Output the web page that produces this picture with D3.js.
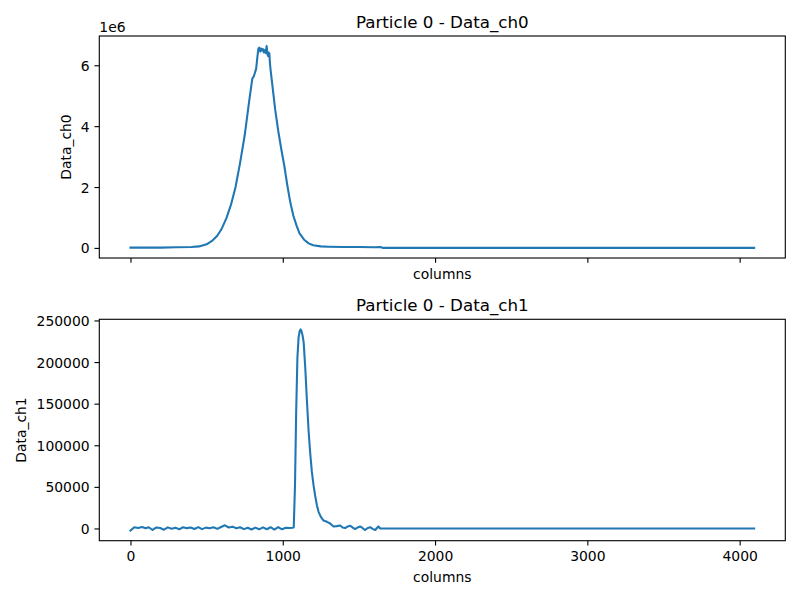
<!DOCTYPE html>
<html>
<head>
<meta charset="utf-8">
<script src="https://cdn.jsdelivr.net/npm/d3@7"></script>
<style>
  body { margin: 0; background: #fff; }
  text { font-family: "DejaVu Sans", sans-serif; fill: #000; }
</style>
</head>
<body>
<div id="wrapper"></div>
<script>
const ch0Columns = [0, 100, 200, 300, 400, 450, 500, 540, 570, 600, 630, 660, 690, 720, 750, 780,
  800, 810, 825, 835, 840, 846, 852, 858, 864, 870, 876, 883, 888, 894, 900, 904, 908, 912, 916,
  920, 935, 950, 970, 990, 1010, 1030, 1050, 1070, 1090, 1110, 1140, 1170, 1200, 1250, 1300,
  1400, 1500, 1600, 1640, 1660, 2500, 3500, 4095]
const ch0Values = [0.01, 0.01, 0.01, 0.02, 0.03, 0.05, 0.12, 0.25, 0.40, 0.64, 0.98, 1.42, 2.0, 2.8, 3.7, 4.85,
  5.56, 5.64, 5.88, 6.35, 6.55, 6.58, 6.45, 6.55, 6.48, 6.53, 6.42, 6.50, 6.40, 6.63, 6.35, 6.30, 6.42, 6.38, 6.05,
  5.85, 5.20, 4.55, 3.85, 3.25, 2.70, 2.05, 1.48, 1.05, 0.74, 0.48, 0.27, 0.15, 0.09, 0.05, 0.04,
  0.03, 0.03, 0.02, 0.03, 0.0, 0.0, 0.0, 0.0].map(v => v * 1e6)

const ch1Columns = [0, 25, 50, 75, 100, 120, 145, 170, 195, 220, 245, 270, 295, 320, 345, 370, 395,
  420, 445, 470, 495, 520, 545, 570, 595, 620, 645, 670, 695, 720, 745, 770, 795, 820, 845, 870,
  895, 920, 945, 970, 995, 1020, 1045, 1065, 1072, 1080, 1088, 1096, 1104, 1111, 1117, 1123, 1130,
  1137, 1148, 1159, 1170, 1180, 1191, 1202, 1213, 1224, 1235, 1250, 1268, 1290, 1311, 1333, 1355,
  1377, 1393, 1410, 1427, 1443, 1460, 1475, 1492, 1508, 1525, 1541, 1558, 1574, 1590, 1607, 1620,
  1628, 1640, 2500, 3500, 4095]
const ch1Values = [-2600, 1500, 500, 1800, 200, 1500, -1800, 1200, 600, -1500, 1300, -300, 1000, -1000, 1500, 400, 1200,
  -600, 1600, -800, 1000, 200, 1400, -500, 1800, 3800, 1200, 2200, 300, 1500, -800, 800, -1200, 1000, -1000, 1300,
  -900, 1500, -1300, 1600, -1000, 800, 500, 900, 1500, 50000, 140000, 205000, 230000, 237000, 239300, 237000, 232000,
  224000, 192000, 152000, 116000, 91000, 68000, 52000, 39000, 28000, 20000, 14000, 9500, 8000, 6000, 2400, 2800,
  3600, 1200, 500, 2500, 3300, 1000, -700, 1200, 2400, 300, -1900, 600, 1500, -500, -1900, 800,
  2400, 0, 0, 0, 0]

const xTicks = [0, 1000, 2000, 3000, 4000]
const ch0Ticks = [0, 2e6, 4e6, 6e6]
const ch1Ticks = [0, 50000, 100000, 150000, 200000, 250000]

const panels = [
  { title: "Particle 0 - Data_ch0", ylabel: "Data_ch0", cols: ch0Columns, vals: ch0Values,
    yTicks: ch0Ticks, yFormat: d => d / 1e6, top: 36, bottom: 258, showX: false, ylabelX: 71, offset: "1e6" },
  { title: "Particle 0 - Data_ch1", ylabel: "Data_ch1", cols: ch1Columns, vals: ch1Values,
    yTicks: ch1Ticks, yFormat: d => d, top: 319.3, bottom: 540.7, showX: true, ylabelX: 25.5, offset: null }
]

const width = 800
const height = 600
const left = 99.3
const right = 785.3
const fontSize = 13.9
const tickLen = 4.86

const svg = d3.select("#wrapper").append("svg")
  .attr("width", width)
  .attr("height", height)

// matplotlib style 5% margins
const pad = ([a, b]) => [a - 0.05 * (b - a), b + 0.05 * (b - a)]

const xScale = d3.scaleLinear()
  .domain(pad(d3.extent(ch0Columns)))
  .range([left, right])

panels.forEach(p => {
  const data = p.cols.map((c, i) => ({ x: c, y: p.vals[i] }))
  const yScale = d3.scaleLinear()
    .domain(pad(d3.extent(p.vals)))
    .range([p.bottom, p.top])

  const g = svg.append("g")

  const line = d3.line()
    .x(d => xScale(d.x))
    .y(d => yScale(d.y))
  g.append("path")
    .datum(data)
    .attr("d", line)
    .attr("fill", "none")
    .attr("stroke", "#1f77b4")
    .attr("stroke-width", 2.08)
    .attr("stroke-linejoin", "round")
    .attr("stroke-linecap", "square")

  const xAxis = g.append("g")
    .attr("transform", `translate(0,${p.bottom})`)
    .call(d3.axisBottom(xScale).tickValues(xTicks)
      .tickSize(tickLen).tickPadding(4.86)
      .tickFormat(p.showX ? d3.format("d") : () => ""))
  const yAxis = g.append("g")
    .attr("transform", `translate(${left},0)`)
    .call(d3.axisLeft(yScale).tickValues(p.yTicks)
      .tickSize(tickLen).tickPadding(4.86)
      .tickFormat(p.yFormat))

  ;[xAxis, yAxis].forEach(a => {
    a.select(".domain").remove()
    a.selectAll(".tick line").attr("stroke", "#000").attr("stroke-width", 1.11)
    a.selectAll(".tick text")
      .style("font-family", "'DejaVu Sans', sans-serif")
      .style("font-size", fontSize + "px")
      .attr("fill", "#000")
  })
  yAxis.selectAll(".tick text").attr("dy", "0.36em")
  xAxis.selectAll(".tick text").attr("dy", "0.76em")

  // frame
  g.append("rect")
    .attr("x", left)
    .attr("y", p.top)
    .attr("width", right - left)
    .attr("height", p.bottom - p.top)
    .attr("fill", "none")
    .attr("stroke", "#000")
    .attr("stroke-width", 1.11)

  g.append("text")
    .attr("x", (left + right) / 2)
    .attr("y", p.top - 8.3)
    .attr("text-anchor", "middle")
    .style("font-size", "16.7px")
    .text(p.title)

  g.append("text")
    .attr("x", (left + right) / 2)
    .attr("y", p.showX ? p.bottom + 41.5 : p.bottom + 20.5)
    .attr("text-anchor", "middle")
    .style("font-size", fontSize + "px")
    .text("columns")

  g.append("text")
    .attr("transform", `translate(${p.ylabelX},${(p.top + p.bottom) / 2}) rotate(-90)`)
    .attr("text-anchor", "middle")
    .style("font-size", fontSize + "px")
    .text(p.ylabel)

  if (p.offset) {
    g.append("text")
      .attr("x", left)
      .attr("y", p.top - 4.5)
      .style("font-size", fontSize + "px")
      .text(p.offset)
  }
})
</script>
</body>
</html>
